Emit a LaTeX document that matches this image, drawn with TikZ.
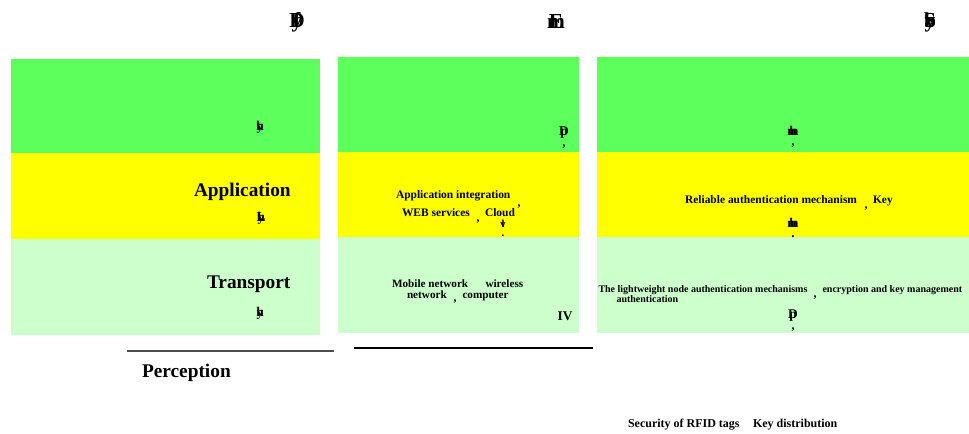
\documentclass[tikz,border=0pt]{standalone}
\usepackage{fontspec}
\setmainfont{Liberation Serif}
\newcommand{\ovl}[2]{\makebox[0pt]{#1}\makebox[0pt]{#2}}
\definecolor{lyrgreen}{HTML}{5CFF5C}
\definecolor{lyryellow}{HTML}{FFFF00}
\definecolor{lyrpale}{HTML}{CCFFCC}
\begin{document}
\begin{tikzpicture}[x=0.75pt,y=-0.75pt,
  every node/.style={inner sep=0pt,outer sep=0pt},
  big/.style={font=\bfseries\fontsize{14.5}{16}\selectfont,anchor=base west},
  mid/.style={font=\bfseries\fontsize{8.6}{9}\selectfont,anchor=base west},
  tight/.style={font=\bfseries\fontsize{8.4}{9}\selectfont,anchor=base west},
  bot/.style={font=\bfseries\fontsize{9}{9}\selectfont,anchor=base west},
  small/.style={font=\bfseries\fontsize{7.5}{8}\selectfont,anchor=base west},
  glyph/.style={font=\bfseries\fontsize{10}{10}\selectfont,anchor=center},
  gstack/.style={font=\bfseries\fontsize{10}{8}\selectfont,align=center,anchor=north},
  tglyph/.style={font=\bfseries\fontsize{16}{16}\selectfont,anchor=center},
  punct/.style={font=\bfseries\fontsize{9}{9}\selectfont,anchor=center}]
\useasboundingbox (0,0) rectangle (969,434);
% column 1
\fill[lyrgreen] (11,59) rectangle (320,153);
\fill[lyryellow] (11,153) rectangle (320,239);
\fill[lyrpale] (11,239) rectangle (320,335);
% column 2
\fill[lyrgreen] (338,57) rectangle (579,152);
\fill[lyryellow] (338,152) rectangle (579,237);
\fill[lyrpale] (338,237) rectangle (579,333);
% column 3
\fill[lyrgreen] (597,57) rectangle (969,152);
\fill[lyryellow] (597,152) rectangle (969,237);
\fill[lyrpale] (597,237) rectangle (969,333);
% lines
\coordinate (l1a) at (127,351); \coordinate (l1b) at (334,351);
\draw[black!70,line width=0.8pt] (l1a) -- (l1b);
\coordinate (l2a) at (354,348); \coordinate (l2b) at (593,348);
\draw[black,line width=1.5pt] (l2a) -- (l2b);
% title glyphs
\node[tglyph] (t1) at (297,22) {\ovl{D}{\ovl{y}{f}}};
\node[tglyph] (t2) at (556,22) {\ovl{E}{m}};
\node[tglyph] (t3) at (930,22) {\ovl{S}{\ovl{b}{y}}};
% column 1 texts
\node[glyph] (g11) at (260,127) {\ovl{h}{y}};
\node[big] (app1) at (194,197) {Application};
\node[glyph] (g12) at (261,218) {\ovl{L}{\ovl{h}{y}}};
\node[big] (tra1) at (207,288.5) {Transport};
\node[glyph] (g13) at (260,313) {\ovl{h}{y}};
\node[big] (per1) at (142,377) {Perception};
% column 2 texts
\node[gstack] (g21) at (564,127) {\ovl{p}{D}\\{\fontsize{9}{9}\selectfont ,}};
\node[mid] (app2) at (396,199) {Application integration};
\node[mid] (web2) at (402,217) {WEB services};
\node[punct] (c22) at (478,222) {,};
\node[mid] (cld2) at (485,217) {Cloud};
\node[punct] (c23) at (519,207) {,};
\node[gstack,font=\bfseries\fontsize{8}{7}\selectfont] (g22) at (503,220) {\ovl{l}{v}\\.};
\node[tight] (mob2) at (392,287.5) {Mobile network};
\node[tight] (wir2) at (485.5,287.5) {wireless};
\node[tight] (net2) at (407,298) {network};
\node[tight] (com2) at (462.5,298) {computer};
\node[punct] (c25) at (455,302) {,};
\node[glyph] (g23) at (565,316) {IV};
% column 3 texts
\node[gstack] (g31) at (793,126) {\ovl{h}{m}\\{\fontsize{9}{9}\selectfont ,}};
\node[mid] (rel3) at (685,203.5) {Reliable authentication mechanism};
\node[punct] (c32) at (866,209) {,};
\node[mid] (key3) at (873,203.5) {Key};
\node[gstack] (g32) at (793,218) {\ovl{h}{m}\\.};
\node[small] (lig3) at (598.5,292.5) {The lightweight node authentication mechanisms};
\node[small] (enc3) at (822.5,292.5) {encryption and key management};
\node[small] (aut3) at (616.5,302.5) {authentication};
\node[punct] (c34) at (815,298) {,};
\node[gstack] (g33) at (793,310) {\ovl{p}{D}\\{\fontsize{9}{9}\selectfont ,}};
\node[bot] (sec3) at (628,427) {Security of RFID tags};
\node[bot] (kd3) at (753,427) {Key distribution};
\end{tikzpicture}
\end{document}
